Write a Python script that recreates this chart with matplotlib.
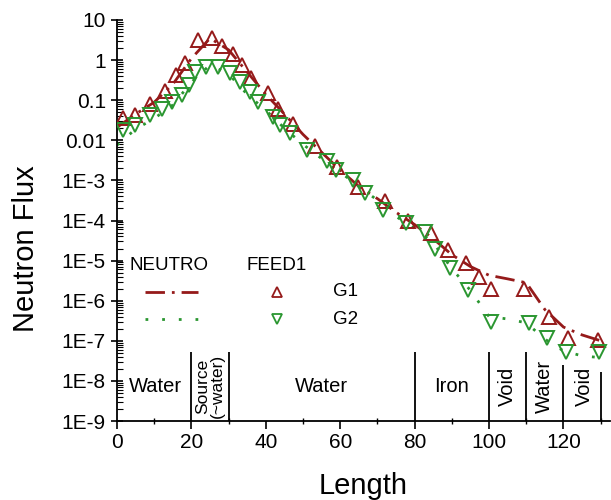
import matplotlib
matplotlib.use("Agg")
import matplotlib.pyplot as plt
from matplotlib.lines import Line2D
from matplotlib.ticker import LogLocator, FixedLocator, FixedFormatter, MultipleLocator

plt.rcParams['font.family'] = ['Liberation Sans', 'DejaVu Sans']

# ---- data ----
# FEED1 markers
g1_x = [1.5, 4.8, 8.8, 12.8, 15.8, 18.3, 21.8, 25.4, 28.3, 31.2, 33.5, 36.0, 40.5, 43.2,
        47.3, 53.1, 59.2, 64.8, 71.9, 78.2, 84.5, 88.9, 93.9, 97.4, 100.5, 109.5, 116.2,
        121.1, 129.2]
g1_y = [0.036, 0.043, 0.079, 0.17, 0.42, 0.87, 3.2, 3.5, 2.2, 1.4, 0.76, 0.36, 0.15, 0.060,
        0.026, 7.2e-3, 2.2e-3, 6.9e-4, 3.0e-4, 1.0e-4, 4.8e-5, 1.8e-5, 8.9e-6, 4.0e-6,
        2.0e-6, 2.0e-6, 4.0e-7, 1.15e-7, 1.05e-7]

g2_x = [1.7, 4.8, 8.9, 12.0, 14.7, 17.4, 19.3, 20.9, 24.0, 27.2, 30.5, 33.0, 35.7, 38.0,
        42.0, 43.9, 46.6, 51.1, 56.5, 58.8, 63.4, 66.6, 71.5, 77.8, 82.7, 85.4, 89.6, 94.3,
        100.5, 110.8, 115.7, 120.6, 129.6]
g2_y = [0.018, 0.024, 0.043, 0.060, 0.091, 0.135, 0.24, 0.51, 0.69, 0.69, 0.47, 0.29, 0.16,
        0.091, 0.039, 0.024, 0.015, 5.8e-3, 3.0e-3, 1.8e-3, 1.0e-3, 4.8e-4, 1.8e-4, 8.5e-5,
        5.2e-5, 2.0e-5, 6.5e-6, 1.9e-6, 3.0e-7, 2.75e-7, 1.15e-7, 5.4e-8, 5.4e-8]

# NEUTRO lines
n_x = [0, 5, 10, 15, 20, 25, 30, 35, 40, 45, 50, 55, 60, 65, 70, 75, 80, 85, 90, 95, 100,
       105, 110, 115, 120, 125, 130]
n1_y = [0.021, 0.045, 0.089, 0.25, 1.1, 3.5, 1.8, 0.5, 0.14, 0.045, 0.014, 5.0e-3, 1.8e-3,
        7.1e-4, 3.5e-4, 1.6e-4, 7.9e-5, 3.5e-5, 1.4e-5, 7.1e-6, 4.3e-6, 3.5e-6, 2.8e-6,
        6.0e-7, 2.2e-7, 1.4e-7, 1.0e-7]
n2_y = [7.6e-3, 0.019, 0.035, 0.076, 0.28, 0.76, 0.45, 0.14, 0.056, 0.020, 7.9e-3, 3.5e-3,
        1.6e-3, 7.1e-4, 3.2e-4, 1.26e-4, 6.3e-5, 2.8e-5, 6.3e-6, 1.8e-6, 4.0e-7, 3.5e-7,
        2.8e-7, 1.1e-7, 5.6e-8, 4.2e-8, 3.8e-8]

# region boundaries and labels
bound_x = [20, 30, 80, 100, 110, 120, 130]
bound_top = [5.4e-8, 5.4e-8, 5.4e-8, 5.4e-8, 5.4e-8, 2.5e-8, 1.7e-8]
region_labels = ["Water", "Source\n(~water)", "Water", "Iron", "Void", "Water", "Void"]
region_x = [10.4, 25, 55, 90, 105, 115, 125.6]
region_rot = [0, 90, 0, 0, 90, 90, 90]
region_fs = [14.5, 12.5, 14.5, 14.5, 14.5, 14.5, 14.5]
region_y = 7.4e-9

ytick_vals = [1e-9, 1e-8, 1e-7, 1e-6, 1e-5, 1e-4, 1e-3, 1e-2, 1e-1, 1, 10]
ytick_labels = ["1E-9", "1E-8", "1E-7", "1E-6", "1E-5", "1E-4", "1E-3", "0.01", "0.1", "1", "10"]

RED = '#951A1A'
GREEN = '#2A9630'

fig = plt.figure(figsize=(6.11, 5.0), dpi=100)
ax = fig.add_axes([117/611, 79/500, 493/611, 401/500])

ax.plot(n_x, n1_y, color=RED, lw=2.0, linestyle=(0, (7, 2.5, 1, 2.5)), zorder=2)
ax.plot(n_x, n2_y, color=GREEN, lw=2.0, linestyle=(0, (1, 5)), zorder=2)
ax.plot(g1_x, g1_y, linestyle='none', marker='^', ms=10.5, mfc='none', mec=RED, mew=1.4, zorder=3)
ax.plot(g2_x, g2_y, linestyle='none', marker='v', ms=10.5, mfc='none', mec=GREEN, mew=1.4, zorder=3)

ax.vlines(bound_x, 1e-9, bound_top, color='black', lw=1.3)
for lab, xx, rot, fs in zip(region_labels, region_x, region_rot, region_fs):
    ax.text(xx, region_y, lab, rotation=rot, ha='center', va='center', fontsize=fs,
            linespacing=0.95)

ax.set_yscale('log')
ax.set_xlim(0, 132.5)
ax.set_ylim(1e-9, 10)
ax.yaxis.set_major_locator(FixedLocator(ytick_vals))
ax.yaxis.set_major_formatter(FixedFormatter(ytick_labels))
ax.yaxis.set_minor_locator(LogLocator(base=10, subs=range(2, 10), numticks=20))
ax.xaxis.set_major_locator(MultipleLocator(20))
ax.xaxis.set_minor_locator(MultipleLocator(10))

for s in ['top', 'right']:
    ax.spines[s].set_visible(False)
for s in ['left', 'bottom']:
    ax.spines[s].set_linewidth(1.3)

ax.tick_params(axis='y', which='major', direction='inout', length=8, width=1.2, labelsize=15, pad=4)
ax.tick_params(axis='y', which='minor', direction='in', length=4, width=0.8)
ax.tick_params(axis='x', which='major', direction='out', length=6, width=1.2, labelsize=15, pad=3)
ax.tick_params(axis='x', which='minor', direction='inout', length=5, width=1.0)

ax.set_xlabel("Length", fontsize=21, labelpad=14)
fig.text(26/611, 1 - 249/500, "Neutron Flux", rotation=90, fontsize=21, ha='center', va='center')

# legend (manual)
T = ax.transAxes
ax.text(0.105, 0.389, "NEUTRO", transform=T, fontsize=13.5, ha='center', va='center')
ax.text(0.3235, 0.389, "FEED1", transform=T, fontsize=13.5, ha='center', va='center')
fig.add_artist(Line2D([0.057, 0.164], [0.3225, 0.3225], transform=T, color=RED, lw=2.0,
                      linestyle=(0, (7, 2.5, 1, 2.5))))
fig.add_artist(Line2D([0.057, 0.164], [0.254, 0.254], transform=T, color=GREEN, lw=2.0,
                      linestyle=(0, (1, 5))))
fig.add_artist(Line2D([0.324], [0.3225], transform=T, linestyle='none', marker='^', ms=7,
                      mfc='none', mec=RED, mew=1.3))
fig.add_artist(Line2D([0.324], [0.254], transform=T, linestyle='none', marker='v', ms=7,
                      mfc='none', mec=GREEN, mew=1.3))
ax.text(0.438, 0.3225, "G1", transform=T, fontsize=13.5, ha='left', va='center')
ax.text(0.438, 0.254, "G2", transform=T, fontsize=13.5, ha='left', va='center')

fig.savefig("out.png", dpi=100)
